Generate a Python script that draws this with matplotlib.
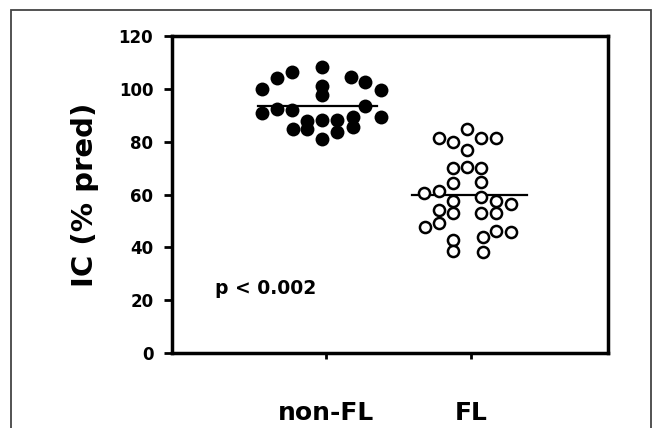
import matplotlib.pyplot as plt
from matplotlib.patches import Rectangle

groups = ['non-FL', 'FL']

# non-FL (filled): horizontal offset from the category, value in % pred
nonfl_dx = [-0.443, -0.340, -0.237, -0.030, -0.030, -0.030, 0.170, 0.270, 0.377,
            -0.443, -0.340, -0.237, 0.270, 0.377,
            -0.230, -0.129, -0.129, -0.030, -0.030, 0.078, 0.078, 0.184, 0.184]
nonfl_val = [99.8, 104.0, 106.5, 108.1, 101.1, 97.7, 104.4, 102.7, 99.5,
             90.8, 92.2, 92.0, 93.5, 89.4,
             84.7, 87.9, 84.7, 88.2, 80.9, 88.2, 83.8, 89.4, 85.7]
nonfl_median = 93.5

# FL (open circles)
fl_dx = [-0.030, -0.219, -0.126, 0.069, 0.175, -0.030, -0.126, -0.030, 0.069,
         -0.126, 0.069, -0.324, -0.219, 0.069, -0.126, 0.175, 0.276,
         -0.219, -0.126, 0.069, 0.175, -0.219, -0.317, 0.175, 0.276,
         -0.126, 0.085, -0.126, 0.085]
fl_val = [84.8, 81.3, 80.0, 81.5, 81.3, 76.8, 69.9, 70.5, 69.9,
          64.2, 64.8, 60.4, 61.3, 59.2, 57.5, 57.5, 56.3,
          54.1, 53.1, 53.1, 52.9, 49.3, 47.6, 46.2, 45.7,
          42.8, 44.0, 38.6, 38.1]
fl_median = 59.8

yticks = [0, 20, 40, 60, 80, 100, 120]
p_text = 'p < 0.002'

fig = plt.figure(figsize=(6.55, 4.28), dpi=100)
ax = fig.add_axes([0.2626, 0.1752, 0.6656, 0.7407])

ax.plot([1 + d for d in nonfl_dx], nonfl_val, 'o', color='black',
        markersize=10, markeredgewidth=0, zorder=3)
ax.plot([2 + d for d in fl_dx], fl_val, 'o', markerfacecolor='white',
        markeredgecolor='black', markersize=8, markeredgewidth=1.8, zorder=3)

ax.plot([1 - 0.469, 1 + 0.352], [nonfl_median] * 2, color='black', lw=1.6, zorder=2)
ax.plot([2 - 0.409, 2 + 0.384], [fl_median] * 2, color='black', lw=1.6, zorder=2)

ax.text(0.234, 24.6, p_text, fontsize=13.5, fontweight='bold', ha='left', va='center')

ax.set_xlim(-0.062, 2.945)
ax.set_ylim(0, 120)
ax.set_yticks(yticks)
ax.set_xticks([1, 2])
ax.set_xticklabels(groups, fontsize=18, fontweight='bold')
for lbl in ax.get_yticklabels():
    lbl.set_fontsize(12)
    lbl.set_fontweight('bold')
ax.tick_params(axis='y', direction='out', length=5.5, width=2, pad=8)
ax.tick_params(axis='x', direction='out', length=4.5, width=2, pad=30)
ax.set_ylabel('IC (% pred)', fontsize=21, fontweight='bold', labelpad=14)

for s in ax.spines.values():
    s.set_linewidth(2.5)

# thin frame around the figure
fig.add_artist(Rectangle((11 / 655, -0.02), 640 / 655, 0.9966, transform=fig.transFigure,
                         fill=False, edgecolor='#444444', linewidth=1.3))

fig.savefig('out.png', dpi=100)
